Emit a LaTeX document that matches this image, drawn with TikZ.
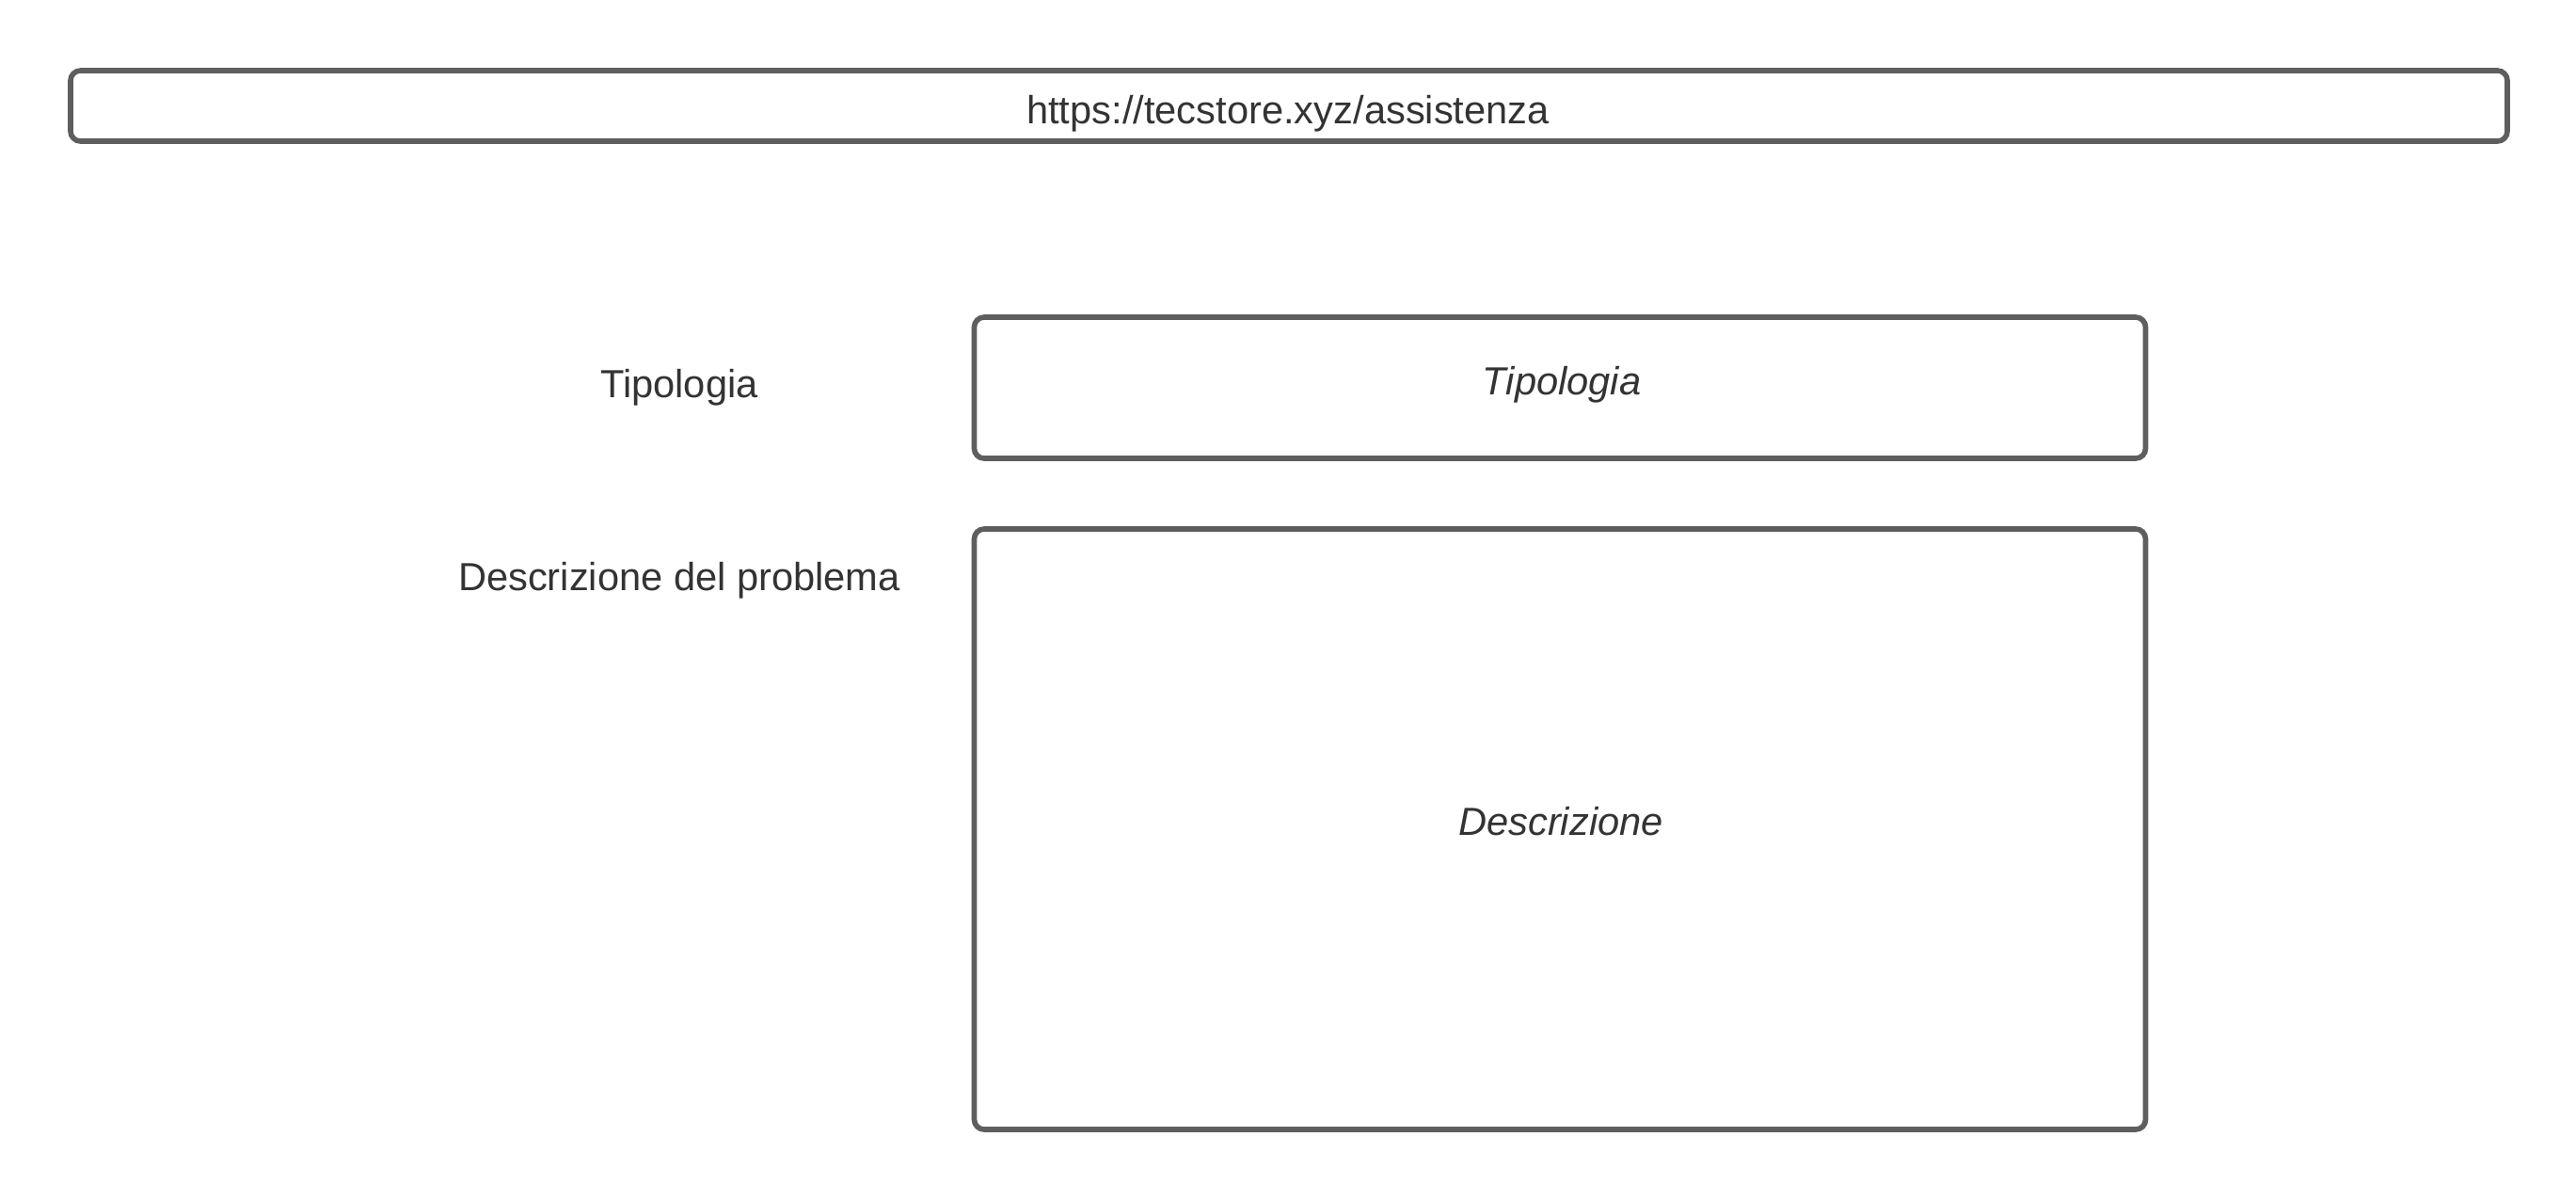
\documentclass[tikz,border=0pt]{standalone}
\usepackage{fontspec}
\setmainfont{Liberation Sans}
\definecolor{boxline}{RGB}{94,94,94}
\definecolor{txt}{RGB}{51,51,51}
\begin{document}
\begin{tikzpicture}[
  frame/.style={draw=boxline, line width=1.6pt, rounded corners=3pt, fill=white, inner sep=0pt},
  lbl/.style={anchor=base, inner sep=0pt, text=txt, font=\fontsize{11.85pt}{14pt}\selectfont},
  ilbl/.style={lbl, font=\fontsize{11.85pt}{14pt}\selectfont\itshape}
]
\useasboundingbox[fill=white] (0,0) rectangle (27.38,-12.75);
% URL bar
\node[frame, minimum width=25.90cm, minimum height=0.75cm] (url) at (13.70,-1.125) {};
\node[lbl] (urltext) at (13.69,-1.317) {https://tecstore.xyz/assistenza};
% Tipologia
\node[lbl] (tiplabel) at (7.22,-4.22) {Tipologia};
\node[frame, minimum width=12.45cm, minimum height=1.50cm] (tipbox) at (16.58,-4.12) {};
\node[ilbl] (tiptext) at (16.60,-4.19) {Tipologia};
% Descrizione
\node[lbl] (desclabel) at (7.22,-6.27) {Descrizione del problema};
\node[frame, minimum width=12.45cm, minimum height=6.38cm] (descbox) at (16.58,-8.81) {};
\node[ilbl] (desctext) at (16.59,-8.87) {Descrizione};
\end{tikzpicture}
\end{document}
